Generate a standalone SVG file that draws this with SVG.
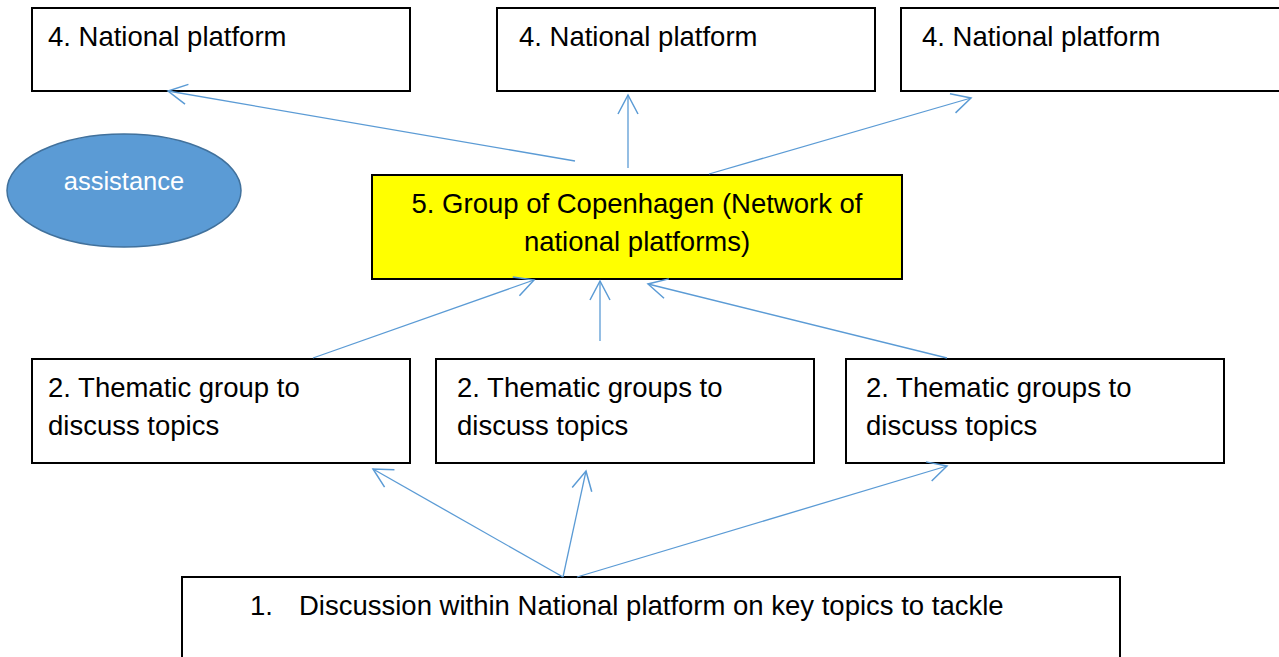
<svg xmlns="http://www.w3.org/2000/svg" width="1279" height="657" viewBox="0 0 1279 657">
  <defs>
    <style>
      .box { fill: #ffffff; stroke: #000000; stroke-width: 2; }
      .hub { fill: #ffff00; stroke: #000000; stroke-width: 2; }
      .lbl { font-family: "Liberation Sans", Arial, sans-serif; font-size: 27.5px; fill: #000000; }
      .link { fill: none; stroke: #5b9bd5; stroke-width: 1.3; marker-end: url(#open); }
    </style>
    <marker id="open" markerUnits="userSpaceOnUse" markerWidth="24" markerHeight="24" viewBox="-2 -12 24 24" refX="19" refY="0" orient="auto">
      <path d="M0,-10 L19,0 L0,10" fill="none" stroke="#5b9bd5" stroke-width="1.5"/>
    </marker>
  </defs>

  <rect width="1279" height="657" fill="#ffffff"/>

  <!-- level 4: national platforms -->
  <g id="platform-left">
    <rect class="box" x="32" y="8" width="378" height="83"/>
    <text class="lbl" x="48" y="46">4. National platform</text>
  </g>
  <g id="platform-middle">
    <rect class="box" x="497" y="8" width="378" height="83"/>
    <text class="lbl" x="519" y="46">4. National platform</text>
  </g>
  <g id="platform-right">
    <rect class="box" x="901" y="8" width="386" height="83"/>
    <text class="lbl" x="922" y="46">4. National platform</text>
  </g>

  <!-- assistance -->
  <g id="assistance">
    <ellipse cx="124" cy="190.5" rx="117" ry="56.5" fill="#5b9bd5" stroke="#41719c" stroke-width="1.5"/>
    <text x="124" y="190" text-anchor="middle" font-family="Liberation Sans, Arial, sans-serif" font-size="25.5" fill="#ffffff">assistance</text>
  </g>

  <!-- level 5: network hub -->
  <g id="copenhagen-group">
    <rect class="hub" x="372" y="175" width="530" height="104"/>
    <text class="lbl" x="637" y="213" text-anchor="middle">5. Group of Copenhagen (Network of</text>
    <text class="lbl" x="637" y="251" text-anchor="middle">national platforms)</text>
  </g>

  <!-- level 2: thematic groups -->
  <g id="thematic-left">
    <rect class="box" x="32" y="359" width="378" height="104"/>
    <text class="lbl" x="48" y="397">2. Thematic group to</text>
    <text class="lbl" x="48" y="435">discuss topics</text>
  </g>
  <g id="thematic-middle">
    <rect class="box" x="436" y="359" width="378" height="104"/>
    <text class="lbl" x="457" y="397">2. Thematic groups to</text>
    <text class="lbl" x="457" y="435">discuss topics</text>
  </g>
  <g id="thematic-right">
    <rect class="box" x="846" y="359" width="378" height="104"/>
    <text class="lbl" x="866" y="397">2. Thematic groups to</text>
    <text class="lbl" x="866" y="435">discuss topics</text>
  </g>

  <!-- level 1: discussion -->
  <g id="discussion">
    <rect class="box" x="182" y="577" width="938" height="100"/>
    <text class="lbl" x="250" y="615">1.</text>
    <text class="lbl" x="299" y="615">Discussion within National platform on key topics to tackle</text>
  </g>

  <!-- connectors -->
  <g id="connectors">
    <line class="link" x1="575" y1="161" x2="168" y2="91"/>
    <line class="link" x1="628" y1="168" x2="628" y2="95"/>
    <line class="link" x1="709" y1="174" x2="971" y2="98"/>
    <line class="link" x1="313" y1="358" x2="534" y2="280"/>
    <line class="link" x1="600" y1="341" x2="600" y2="281"/>
    <line class="link" x1="947" y1="358" x2="648" y2="284"/>
    <line class="link" x1="563" y1="577" x2="373" y2="469"/>
    <line class="link" x1="563" y1="577" x2="586" y2="471"/>
    <line class="link" x1="577" y1="577" x2="947" y2="466"/>
  </g>
</svg>
